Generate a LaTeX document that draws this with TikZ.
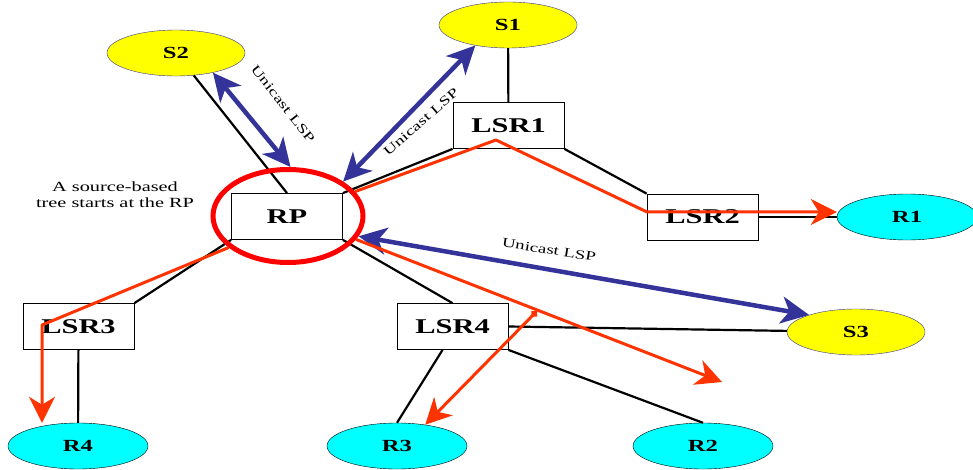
\documentclass[tikz,border=0pt]{standalone}
\usepackage{fontspec}
\setmainfont{Liberation Serif}[FakeStretch=1.45]
\usetikzlibrary{positioning, arrows.meta, shapes.geometric}
\definecolor{srcyellow}{HTML}{FFFF00}
\definecolor{rcvcyan}{HTML}{00FFFF}
\definecolor{lspblue}{HTML}{333399}
\definecolor{sptred}{HTML}{FF3300}
\tikzset{%
	src/.style = {name = #1, ellipse, draw = lspblue, fill = srcyellow, minimum width = 138pt, minimum height = 46pt, inner sep = 0pt, font = \bfseries\fontsize{17}{17}\selectfont},
	rcv/.style = {name = #1, ellipse, draw, fill = rcvcyan, minimum width = 140pt, minimum height = 46pt, inner sep = 0pt, font = \bfseries\fontsize{17}{17}\selectfont},
	lsr/.style = {name = #1, rectangle, draw, fill = white, line width = 0.8pt, minimum width = 111pt, minimum height = 46pt, inner sep = 0pt, font = \bfseries\fontsize{21}{21}\selectfont},
	link/.style = {line width = 2.2pt},
	lsp/.style = {draw = lspblue, line width = 4.5pt, >={Stealth[length = 28pt, width = 27pt, inset = 8pt]}, <->},
	spt/.style = {draw = sptred, line width = 3pt, line join = round, >={Stealth[length = 26pt, width = 26pt, inset = 8pt]}, ->},
	lsplabel/.style = {font = \fontsize{13}{13}\selectfont, inner sep = 1pt}
}
\begin{document}
\begin{tikzpicture}[x = 1pt, y = -1pt]
	\useasboundingbox (0,0) rectangle (973,470);
	% sources and receivers
	\node [src = S1] at (508,25) {S1};
	\node [src = S2] at (176,53) {S2};
	\node [src = S3] at (856,332) {S3};
	\node [rcv = R1] at (907,217) {R1};
	\node [rcv = R2] at (703,446) {R2};
	\node [rcv = R3] at (397,446) {R3};
	\node [rcv = R4] at (78,446) {R4};
	% routers
	\node [lsr = RP] at (287,216.5) {RP};
	\node [lsr = LSR1] at (508.5,125.5) {LSR1};
	\node [lsr = LSR2] at (702.5,217) {LSR2};
	\node [lsr = LSR3] at (78.5,326.5) {LSR3};
	\node [lsr = LSR4] at (452.5,326.5) {LSR4};
	\node [name = note, align = center, font = \fontsize{14}{16}\selectfont] at (115,195) {A source-based\\tree starts at the RP};
	\node [lsplabel, name = lspS2, rotate = -52] at (283,104) {Unicast LSP};
	\node [lsplabel, name = lspS1, rotate = 41] at (421,122) {Unicast LSP};
	\node [lsplabel, name = lspS3, rotate = -9] at (549,250) {Unicast LSP};
	% links
	\path [link] (S2) edge (RP.north)
		(S1) edge (LSR1)
		(RP.north east) edge (LSR1.south west)
		(LSR1.south east) edge (LSR2.north west)
		(LSR2.east) edge (R1)
		(RP.south west) edge (LSR3.north east)
		(RP.south east) edge (LSR4.north)
		(LSR3) edge (R4)
		(LSR4.-113) edge (R3.north)
		(LSR4.south east) edge (R2.north)
		(LSR4.east) edge (S3);
	\node [name = ring, ellipse, draw = red, line width = 5pt, minimum width = 150pt, minimum height = 93pt] at (288,216) {};
	% unicast LSPs
	\draw [lsp] (S2.-28) -- (ring.87);
	\draw [lsp] (ring.32) -- (S1.-148);
	\draw [lsp] (ring.-16) -- (S3.160);
	% source-based tree
	\coordinate (hop1) at (496,140);
	\coordinate (hop2) at (647,212);
	\coordinate (hop3) at (42,325);
	\coordinate (fork) at (537,311);
	\coordinate (open) at (722,382);
	\draw [spt] (ring.20) -- (hop1) -- (hop2) -- (hop2 -| R1.west);
	\draw [spt] (ring.-152) -- (hop3) -- (hop3 |- R4.north);
	\draw [spt] (ring.-19) -- (open);
	\draw [spt, {Diamond[length = 8pt, width = 8pt]}->] (fork) -- (R3.37);
\end{tikzpicture}
\end{document}
